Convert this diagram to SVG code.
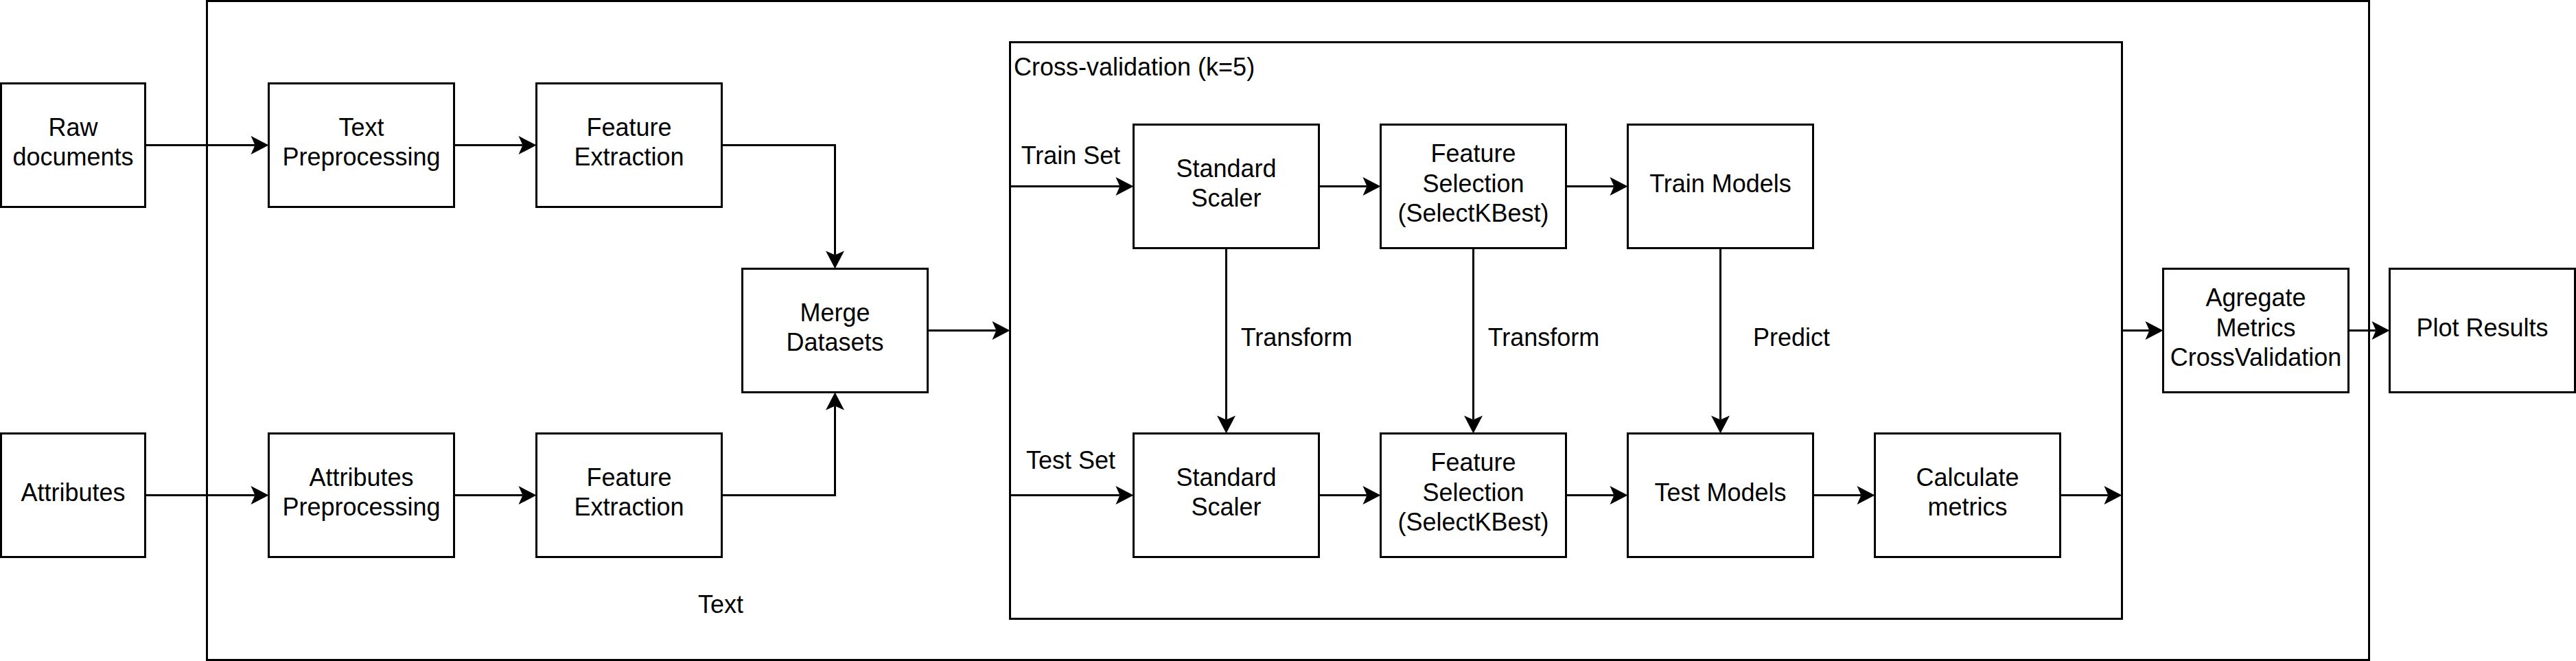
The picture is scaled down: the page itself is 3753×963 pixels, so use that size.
<svg xmlns="http://www.w3.org/2000/svg" width="3753" height="963" viewBox="0 0 3753 963">
<style>
.box{fill:#fff;stroke:#000;stroke-width:3}
.frame{fill:none;stroke:#000;stroke-width:3}
.lbl{font-family:"Liberation Sans",Arial,Helvetica,sans-serif;font-size:36px;fill:#000;text-anchor:middle}
.lft{font-family:"Liberation Sans",Arial,Helvetica,sans-serif;font-size:36px;fill:#000;text-anchor:start}
.edge{fill:none;stroke:#000;stroke-width:3;marker-end:url(#arr)}
.edge0{fill:none;stroke:#000;stroke-width:3}
</style>
<defs>
<marker id="arr" markerUnits="userSpaceOnUse" viewBox="-27 -15 28 30" refX="-20" refY="0" markerWidth="28" markerHeight="30" orient="auto">
<path d="M0,0 L-26,-13.5 L-20,0 L-26,13.5 Z" fill="#000"/>
</marker>
</defs>
<rect width="3753" height="963" fill="#fff"/>
<g id="outer-container"><rect class="frame" x="301.5" y="1.5" width="3150" height="960"/><text class="lbl" x="1050" y="893">Text</text></g>
<g id="cv-container"><rect class="frame" x="1471.5" y="61.5" width="1620" height="840"/><text class="lft" x="1477" y="110">Cross-validation (k=5)</text></g>
<g id="raw-documents"><rect class="box" x="1.5" y="121.5" width="210" height="180"/><text class="lbl" x="106.5" y="197.9">Raw</text><text class="lbl" x="106.5" y="241.1">documents</text></g>
<g id="attributes"><rect class="box" x="1.5" y="631.5" width="210" height="180"/><text class="lbl" x="106.5" y="729.5">Attributes</text></g>
<g id="text-preprocessing"><rect class="box" x="391.5" y="121.5" width="270" height="180"/><text class="lbl" x="526.5" y="197.9">Text</text><text class="lbl" x="526.5" y="241.1">Preprocessing</text></g>
<g id="feature-extraction-1"><rect class="box" x="781.5" y="121.5" width="270" height="180"/><text class="lbl" x="916.5" y="197.9">Feature</text><text class="lbl" x="916.5" y="241.1">Extraction</text></g>
<g id="attributes-preprocessing"><rect class="box" x="391.5" y="631.5" width="270" height="180"/><text class="lbl" x="526.5" y="707.9">Attributes</text><text class="lbl" x="526.5" y="751.1">Preprocessing</text></g>
<g id="feature-extraction-2"><rect class="box" x="781.5" y="631.5" width="270" height="180"/><text class="lbl" x="916.5" y="707.9">Feature</text><text class="lbl" x="916.5" y="751.1">Extraction</text></g>
<g id="merge-datasets"><rect class="box" x="1081.5" y="391.5" width="270" height="180"/><text class="lbl" x="1216.5" y="467.9">Merge</text><text class="lbl" x="1216.5" y="511.1">Datasets</text></g>
<g id="standard-scaler-train"><rect class="box" x="1651.5" y="181.5" width="270" height="180"/><text class="lbl" x="1786.5" y="257.9">Standard</text><text class="lbl" x="1786.5" y="301.1">Scaler</text></g>
<g id="standard-scaler-test"><rect class="box" x="1651.5" y="631.5" width="270" height="180"/><text class="lbl" x="1786.5" y="707.9">Standard</text><text class="lbl" x="1786.5" y="751.1">Scaler</text></g>
<g id="feature-selection-train"><rect class="box" x="2011.5" y="181.5" width="270" height="180"/><text class="lbl" x="2146.5" y="236.3">Feature</text><text class="lbl" x="2146.5" y="279.5">Selection</text><text class="lbl" x="2146.5" y="322.7">(SelectKBest)</text></g>
<g id="feature-selection-test"><rect class="box" x="2011.5" y="631.5" width="270" height="180"/><text class="lbl" x="2146.5" y="686.3">Feature</text><text class="lbl" x="2146.5" y="729.5">Selection</text><text class="lbl" x="2146.5" y="772.7">(SelectKBest)</text></g>
<g id="train-models"><rect class="box" x="2371.5" y="181.5" width="270" height="180"/><text class="lbl" x="2506.5" y="279.5">Train Models</text></g>
<g id="test-models"><rect class="box" x="2371.5" y="631.5" width="270" height="180"/><text class="lbl" x="2506.5" y="729.5">Test Models</text></g>
<g id="calculate-metrics"><rect class="box" x="2731.5" y="631.5" width="270" height="180"/><text class="lbl" x="2866.5" y="707.9">Calculate</text><text class="lbl" x="2866.5" y="751.1">metrics</text></g>
<g id="agregate-metrics"><rect class="box" x="3151.5" y="391.5" width="270" height="180"/><text class="lbl" x="3286.5" y="446.3">Agregate</text><text class="lbl" x="3286.5" y="489.5">Metrics</text><text class="lbl" x="3286.5" y="532.7">CrossValidation</text></g>
<g id="plot-results"><rect class="box" x="3481.5" y="391.5" width="270" height="180"/><text class="lbl" x="3616.5" y="489.5">Plot Results</text></g>
<g id="connectors">
<path class="edge" d="M211.5,211.5 H371.5"/>
<path class="edge" d="M661.5,211.5 H761.5"/>
<path class="edge" d="M1051.5,211.5 H1216.5 V371.5"/>
<path class="edge" d="M211.5,721.5 H371.5"/>
<path class="edge" d="M661.5,721.5 H761.5"/>
<path class="edge" d="M1051.5,721.5 H1216.5 V591.5"/>
<path class="edge" d="M1351.5,481.5 H1451.5"/>
<path class="edge" d="M1471.5,271.5 H1631.5"/>
<text class="lbl" x="1560" y="238.5">Train Set</text>
<path class="edge" d="M1471.5,721.5 H1631.5"/>
<text class="lbl" x="1560" y="683">Test Set</text>
<path class="edge" d="M1921.5,271.5 H1991.5"/>
<path class="edge" d="M2281.5,271.5 H2351.5"/>
<path class="edge" d="M1786.5,361.5 V611.5"/>
<text class="lbl" x="1889" y="503.5">Transform</text>
<path class="edge" d="M2146.5,361.5 V611.5"/>
<text class="lbl" x="2249" y="503.5">Transform</text>
<path class="edge" d="M2506.5,361.5 V611.5"/>
<text class="lbl" x="2610" y="503.5">Predict</text>
<path class="edge" d="M1921.5,721.5 H1991.5"/>
<path class="edge" d="M2281.5,721.5 H2351.5"/>
<path class="edge" d="M2641.5,721.5 H2711.5"/>
<path class="edge" d="M3001.5,721.5 H3071.5"/>
<path class="edge" d="M3091.5,481.5 H3131.5"/>
<path class="edge" d="M3421.5,481.5 H3461.5"/>
</g>
</svg>
